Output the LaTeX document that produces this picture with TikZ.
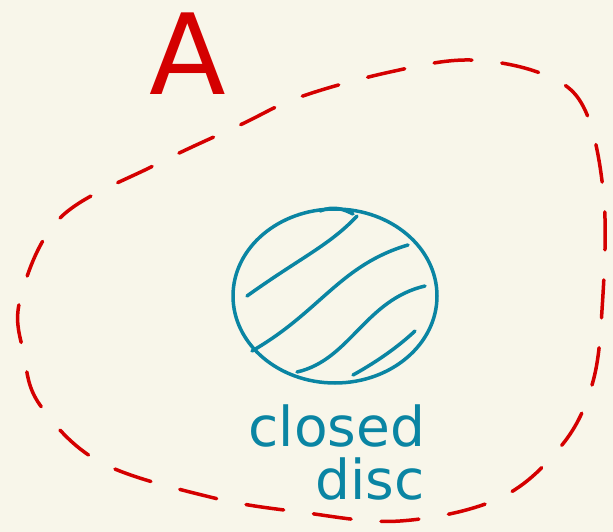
\documentclass[tikz,border=0pt]{standalone}
\usepackage{fontspec}
\setmainfont{DejaVu Sans}
\definecolor{paper}{HTML}{F8F6EA}
\definecolor{penred}{HTML}{D40000}
\definecolor{penblue}{HTML}{0A85A3}
\begin{document}
\begin{tikzpicture}[
    x=1pt, y=-1pt,
    redpen/.style={draw=penred, line width=3.5pt, line cap=round,
      dash pattern=on 38pt off 30pt},
    bluepen/.style={draw=penblue, line width=3.5pt, line cap=round},
    label/.style={text=penblue, inner sep=0pt, font=\fontsize{55}{60}\selectfont},
  ]
  \fill[paper] (0,0) rectangle (613,532);
  \useasboundingbox (0,0) rectangle (613,532);
  % the set A
  \draw[redpen] plot[smooth cycle, tension=0.6] coordinates {
    (20,300) (60,218) (155,165) (240,125) (300,97) (390,72) (470,60)
    (545,75) (585,110) (604,200) (602,310) (592,385) (562,445)
    (500,498) (400,521) (300,512) (210,497) (100,462) (40,405) (24,355)};
  \node[text=penred, font=\fontsize{112}{120}\selectfont] (setA) at (188,54) {A};
  % the closed disc
  \draw[bluepen] (335,296) ellipse [x radius=102, y radius=87];
  \draw[bluepen] (247,296) .. controls (300,258) and (330,245) .. (357,216);
  \draw[bluepen] (252,351) .. controls (320,312) and (340,265) .. (408,245);
  \draw[bluepen] (297,372) .. controls (350,360) and (365,300) .. (425,286);
  \draw[bluepen] (353,375) .. controls (380,360) and (400,345) .. (415,331);
  \draw[bluepen] (320,211) .. controls (335,205) and (345,210) .. (353,214);
  \node[label, anchor=base] (closed) at (337,446) {closed};
  \node[label, anchor=base] (disc) at (370,499) {disc};
\end{tikzpicture}
\end{document}
